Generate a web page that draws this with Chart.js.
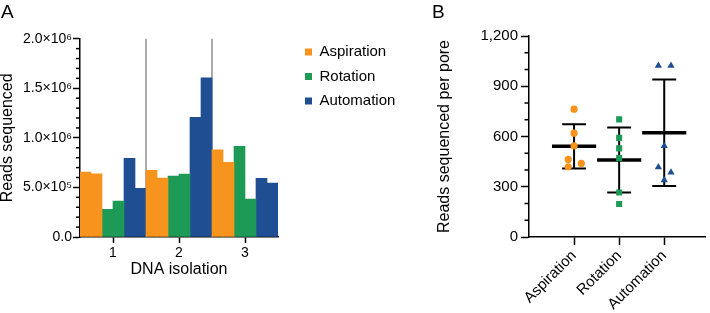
<!DOCTYPE html>
<html>
<head>
<meta charset="utf-8">
<script src="https://cdn.jsdelivr.net/npm/chart.js@4.4.1/dist/chart.umd.min.js"></script>
<style>
  html, body { margin: 0; padding: 0; background: #fff; }
  #wrap { position: relative; width: 710px; height: 313px; overflow: hidden; }
  canvas { position: absolute; top: 0; }
  #chartA { left: 0; }
  #chartB { left: 400px; }
</style>
</head>
<body>
<div id="wrap">
  <canvas id="chartA" width="400" height="313"></canvas>
  <canvas id="chartB" width="310" height="313"></canvas>
</div>
<script>
// Panel A - reads per library, two libraries per method in each isolation
const isolations = ['1', '2', '3'];
const aspiration1 = [655000, 672000, 880000];
const aspiration2 = [638000, 595000, 753000];
const rotation1 = [279000, 615000, 914000];
const rotation2 = [363000, 635000, 383000];
const automation1 = [793000, 1207000, 592000];
const automation2 = [491000, 1606000, 544000];
const readTicks = [0, 500000, 1000000, 1500000, 2000000];
const readTickLabels = ['0.0', '5.0×10⁵', '1.0×10⁶', '1.5×10⁶', '2.0×10⁶'];

// Panel B - reads per pore
const methods = ['Aspiration', 'Rotation', 'Automation'];
const aspirationPore = [763, 620, 544, 463, 419, 439];
const rotationPore = [702, 592, 529, 471, 266, 197];
const automationPore = [1023, 1023, 544, 417, 386, 340];
// sideways scatter of points that overlap
const aspirationJitter = [0, 0, 0, -0.13, -0.13, 0.16];
const rotationJitter = [0, 0, 0, 0, 0, 0];
const automationJitter = [-0.13, 0.15, 0, -0.13, 0.15, 0];

const ORANGE = '#F7941D';
const GREEN = '#1E9A57';
const BLUE = '#1F4E93';
const FONT = '"Liberation Sans", Arial, Helvetica, sans-serif';

Chart.defaults.font.family = FONT;
Chart.defaults.color = '#000';

// short ticks between the labelled ones
const minorTicks = {
    id: 'minorTicks',
    afterDraw(chart, args, opts) {
        const scale = chart.scales.y;
        const ctx = chart.ctx;
        ctx.save();
        ctx.strokeStyle = '#000';
        ctx.lineWidth = 1.5;
        for (let v = scale.min; v <= scale.max; v += opts.step) {
            const r = v / opts.major;
            if (Math.abs(r - Math.round(r)) < 1e-6) continue;
            const y = scale.getPixelForValue(v);
            ctx.beginPath();
            ctx.moveTo(scale.right - opts.length, y);
            ctx.lineTo(scale.right, y);
            ctx.stroke();
        }
        ctx.restore();
    }
};

const panelLetter = {
    id: 'panelLetter',
    afterDraw(chart, args, opts) {
        const ctx = chart.ctx;
        ctx.save();
        ctx.font = '19px ' + FONT;
        ctx.fillStyle = '#000';
        ctx.textBaseline = 'alphabetic';
        ctx.fillText(opts.text, opts.x, opts.y);
        ctx.restore();
    }
};

// grey lines between the isolations
const groupLines = {
    id: 'groupLines',
    beforeDatasetsDraw(chart) {
        const xs = chart.scales.x;
        const area = chart.chartArea;
        const ctx = chart.ctx;
        ctx.save();
        ctx.strokeStyle = '#808080';
        ctx.lineWidth = 1.3;
        for (let i = 1; i < xs.ticks.length; i++) {
            const px = (xs.getPixelForTick(i - 1) + xs.getPixelForTick(i)) / 2;
            ctx.beginPath();
            ctx.moveTo(px, area.top);
            ctx.lineTo(px, area.bottom);
            ctx.stroke();
        }
        ctx.restore();
    }
};

// mean and SD bars behind the points
const meanSd = {
    id: 'meanSd',
    beforeDatasetsDraw(chart) {
        const xs = chart.scales.x;
        const ys = chart.scales.y;
        const ctx = chart.ctx;
        ctx.save();
        ctx.strokeStyle = '#000';
        chart.data.datasets.forEach((ds, i) => {
            const vals = ds.data.map(p => p.y);
            const mean = vals.reduce((a, b) => a + b, 0) / vals.length;
            const sd = Math.sqrt(vals.reduce((a, b) => a + (b - mean) ** 2, 0) / (vals.length - 1));
            const c = i + 1;
            const cx = xs.getPixelForValue(c);
            const yHi = ys.getPixelForValue(mean + sd);
            const yLo = ys.getPixelForValue(mean - sd);
            const yMean = ys.getPixelForValue(mean);

            ctx.lineWidth = 2;
            ctx.beginPath();
            ctx.moveTo(cx, yHi);
            ctx.lineTo(cx, yLo);
            ctx.moveTo(xs.getPixelForValue(c - 0.265), yHi);
            ctx.lineTo(xs.getPixelForValue(c + 0.265), yHi);
            ctx.moveTo(xs.getPixelForValue(c - 0.265), yLo);
            ctx.lineTo(xs.getPixelForValue(c + 0.265), yLo);
            ctx.stroke();

            ctx.lineWidth = 3.5;
            ctx.beginPath();
            ctx.moveTo(xs.getPixelForValue(c - 0.49), yMean);
            ctx.lineTo(xs.getPixelForValue(c + 0.49), yMean);
            ctx.stroke();
        });
        ctx.restore();
    }
};

function bars(label, values, color) {
    return {
        label: label,
        data: values,
        backgroundColor: color,
        borderWidth: 0,
        categoryPercentage: 1,
        barPercentage: 1,
        xAxisID: 'x',
        yAxisID: 'y'
    };
}

const hidden = {
    type: 'linear',
    display: true,
    grid: { display: false },
    ticks: { display: false },
    border: { display: false }
};

const chartA = new Chart(document.getElementById('chartA'), {
    type: 'bar',
    data: {
        labels: isolations,
        datasets: [
            bars('Aspiration', aspiration1, ORANGE),
            bars('Aspiration', aspiration2, ORANGE),
            bars('Rotation', rotation1, GREEN),
            bars('Rotation', rotation2, GREEN),
            bars('Automation', automation1, BLUE),
            bars('Automation', automation2, BLUE)
        ]
    },
    options: {
        responsive: false,
        animation: false,
        devicePixelRatio: 1,
        layout: { padding: { top: 35, left: 0, right: 4.5, bottom: 0 } },
        scales: {
            x: {
                type: 'category',
                ticks: { font: { size: 14 }, padding: 2 },
                grid: { offset: false, drawOnChartArea: false, tickLength: 6, tickWidth: 1.5, tickColor: '#000' },
                border: { color: '#000', width: 1.5 },
                title: {
                    display: true, text: 'DNA isolation',
                    font: { size: 16, lineHeight: 1 },
                    padding: { top: 0, bottom: 35 }
                },
                afterFit: s => { s.height = 76; }
            },
            y: {
                min: 0,
                max: 2000000,
                afterBuildTicks: s => { s.ticks = readTicks.map(v => ({ value: v })); },
                ticks: {
                    callback: v => readTickLabels[readTicks.indexOf(v)],
                    font: { size: 14 },
                    padding: 1
                },
                grid: { drawOnChartArea: false, tickLength: 7, tickWidth: 1.5, tickColor: '#000' },
                border: { color: '#000', width: 1.5 },
                title: {
                    display: true, text: 'Reads sequenced',
                    font: { size: 16, lineHeight: 1 },
                    padding: { top: 0, bottom: 0 }
                },
                afterFit: s => { s.width = 80; }
            },
            gapR: Object.assign({ position: 'right', afterFit: s => { s.width = 17.5; } }, hidden),
            gapT: Object.assign({ position: 'top', afterFit: s => { s.height = 3.7; } }, hidden)
        },
        plugins: {
            legend: {
                position: 'right',
                align: 'start',
                maxWidth: 100,
                labels: {
                    boxWidth: 7,
                    boxHeight: 7,
                    padding: 9.5,
                    font: { size: 15 },
                    color: '#000',
                    filter: item => item.datasetIndex % 2 === 0
                }
            },
            tooltip: { enabled: false },
            minorTicks: { step: 100000, major: 500000, length: 4 },
            panelLetter: { text: 'A', x: 1, y: 18 }
        }
    },
    plugins: [groupLines, minorTicks, panelLetter]
});

function points(label, values, jitter, group, style, radius, color) {
    return {
        label: label,
        data: values.map((v, i) => ({ x: group + jitter[i], y: v })),
        pointStyle: style,
        pointRadius: radius,
        pointBackgroundColor: color,
        pointBorderWidth: 0,
        backgroundColor: color,
        borderColor: color
    };
}

const chartB = new Chart(document.getElementById('chartB'), {
    type: 'scatter',
    data: {
        datasets: [
            points('Aspiration', aspirationPore, aspirationJitter, 1, 'circle', 3.6, ORANGE),
            points('Rotation', rotationPore, rotationJitter, 2, 'rect', 4.3, GREEN),
            points('Automation', automationPore, automationJitter, 3, 'triangle', 4.2, BLUE)
        ]
    },
    options: {
        responsive: false,
        animation: false,
        devicePixelRatio: 1,
        layout: { padding: { top: 36, left: 0, right: 4, bottom: 0 } },
        scales: {
            x: {
                type: 'linear',
                min: 0,
                max: 3.92,
                afterBuildTicks: s => { s.ticks = methods.map((m, i) => ({ value: i + 1 })); },
                ticks: {
                    callback: v => methods[v - 1],
                    minRotation: 45,
                    maxRotation: 45,
                    autoSkip: false,
                    font: { size: 15 },
                    padding: 2
                },
                grid: { drawOnChartArea: false, tickLength: 8, tickWidth: 1.5, tickColor: '#000' },
                border: { color: '#000', width: 1.5 },
                afterFit: s => { s.height = 76; }
            },
            y: {
                min: 0,
                max: 1200,
                ticks: { stepSize: 300, font: { size: 15 }, padding: 3 },
                grid: { drawOnChartArea: false, tickLength: 8, tickWidth: 1.5, tickColor: '#000' },
                border: { color: '#000', width: 1.5 },
                title: {
                    display: true, text: 'Reads sequenced per pore',
                    font: { size: 16, lineHeight: 1 },
                    padding: { top: 36.5, bottom: 0 }
                },
                afterFit: s => { s.width = 129; }
            }
        },
        plugins: {
            legend: { display: false },
            tooltip: { enabled: false },
            minorTicks: { step: 100, major: 300, length: 4.5 },
            panelLetter: { text: 'B', x: 32, y: 18 }
        }
    },
    plugins: [meanSd, minorTicks, panelLetter]
});
</script>
</body>
</html>
